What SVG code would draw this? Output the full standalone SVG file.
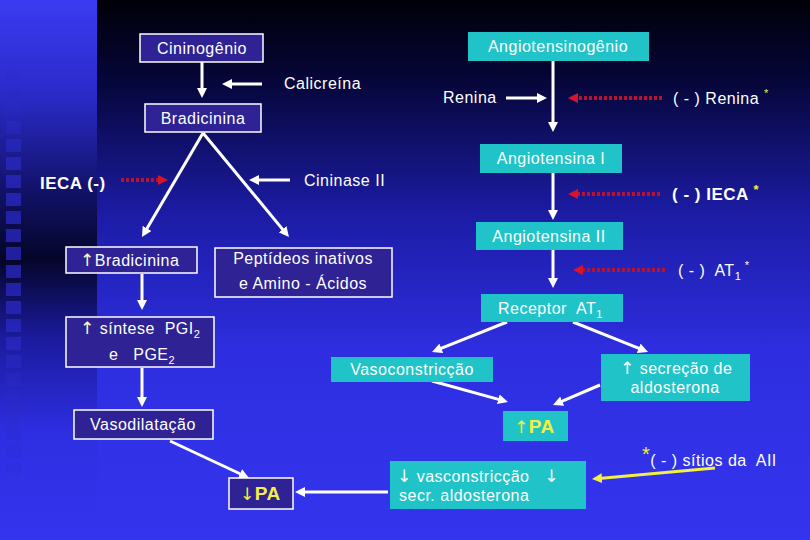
<svg xmlns="http://www.w3.org/2000/svg" width="810" height="540" viewBox="0 0 810 540">
<defs>
<linearGradient id="bgMain" x1="0" y1="0" x2="0" y2="1">
<stop offset="0" stop-color="#000008"/>
<stop offset="0.15" stop-color="#06063a"/>
<stop offset="0.4" stop-color="#1c1ca6"/>
<stop offset="0.65" stop-color="#2e2ee0"/>
<stop offset="1" stop-color="#3434ee"/>
</linearGradient>
<linearGradient id="bgStripe" x1="0" y1="0" x2="0" y2="1">
<stop offset="0" stop-color="#3b3bf2"/>
<stop offset="0.18" stop-color="#2a2ac8"/>
<stop offset="0.35" stop-color="#12126a"/>
<stop offset="0.48" stop-color="#05052a"/>
<stop offset="0.62" stop-color="#1a1a9a"/>
<stop offset="0.8" stop-color="#2e2ee2"/>
<stop offset="1" stop-color="#3434ee"/>
</linearGradient>
<marker id="aw" markerUnits="userSpaceOnUse" markerWidth="10" markerHeight="10" viewBox="0 0 10 10" refX="3" refY="5" orient="auto"><path d="M0,0 L10,5 L0,10 z" fill="#ffffff"/></marker>
<marker id="ar" markerUnits="userSpaceOnUse" markerWidth="10" markerHeight="10" viewBox="0 0 10 10" refX="3" refY="5" orient="auto"><path d="M0,0 L10,5 L0,10 z" fill="#d8142a"/></marker>
<marker id="ay" markerUnits="userSpaceOnUse" markerWidth="10" markerHeight="10" viewBox="0 0 10 10" refX="3" refY="5" orient="auto"><path d="M0,0 L10,5 L0,10 z" fill="#f2f040"/></marker>
</defs>
<style>
.t{font-family:"Liberation Sans",Arial,sans-serif;font-size:16px;fill:#ffffff;letter-spacing:0.5px}
.b{font-weight:bold;font-size:17px}
.y{fill:#f4f040;font-weight:bold;font-size:19px}
.ly{fill:#ffffc8}
.arr{font-family:"DejaVu Sans",sans-serif;font-size:17px;font-weight:normal}
.sub{font-size:11px}
.kb{fill:#2e2294;stroke:#ffffff;stroke-width:1.5}
.ab{fill:#20c4c8}
.w{stroke:#ffffff;stroke-width:3;fill:none;marker-end:url(#aw)}
.r{stroke:#b8122c;stroke-width:4;stroke-dasharray:3 2;fill:none;marker-end:url(#ar)}
.yl{stroke:#f2f040;stroke-width:3;fill:none;marker-end:url(#ay)}
.sq{fill:#2a2ac4}
</style>
<rect x="0" y="0" width="810" height="540" fill="url(#bgMain)"/>
<rect x="0" y="0" width="97" height="540" fill="url(#bgStripe)"/>
<g id="squares">
<rect class="sq" x="6" y="67" width="15" height="13" opacity="0.1"/>
<rect class="sq" x="6" y="85" width="15" height="13" opacity="0.2"/>
<rect class="sq" x="6" y="103" width="15" height="13" opacity="0.35"/>
<rect class="sq" x="6" y="121" width="15" height="13" opacity="0.5"/>
<rect class="sq" x="6" y="139" width="15" height="13" opacity="0.65"/>
<rect class="sq" x="6" y="157" width="15" height="13" opacity="0.75"/>
<rect class="sq" x="6" y="175" width="15" height="13" opacity="0.75"/>
<rect class="sq" x="6" y="193" width="15" height="13" opacity="0.75"/>
<rect class="sq" x="6" y="211" width="15" height="13" opacity="0.75"/>
<rect class="sq" x="6" y="229" width="15" height="13" opacity="0.75"/>
<rect class="sq" x="6" y="247" width="15" height="13" opacity="0.75"/>
<rect class="sq" x="6" y="265" width="15" height="13" opacity="0.75"/>
<rect class="sq" x="6" y="283" width="15" height="13" opacity="0.75"/>
<rect class="sq" x="6" y="301" width="15" height="13" opacity="0.75"/>
<rect class="sq" x="6" y="319" width="15" height="13" opacity="0.75"/>
<rect class="sq" x="6" y="337" width="15" height="13" opacity="0.75"/>
<rect class="sq" x="6" y="355" width="15" height="13" opacity="0.6"/>
<rect class="sq" x="6" y="373" width="15" height="13" opacity="0.5"/>
<rect class="sq" x="6" y="391" width="15" height="13" opacity="0.4"/>
<rect class="sq" x="6" y="409" width="15" height="13" opacity="0.3"/>
<rect class="sq" x="6" y="427" width="15" height="13" opacity="0.22"/>
<rect class="sq" x="6" y="445" width="15" height="13" opacity="0.15"/>
<rect class="sq" x="6" y="463" width="15" height="13" opacity="0.1"/>
</g>
<g id="connectors">
<line class="w" x1="202" y1="62" x2="202" y2="91"/>
<line class="w" x1="262" y1="84" x2="229" y2="84"/>
<line class="w" x1="203" y1="133" x2="145.5" y2="231"/>
<line class="w" x1="203" y1="133" x2="284.5" y2="231.6"/>
<line class="r" x1="121" y1="180" x2="161" y2="180"/>
<line class="w" x1="290" y1="180" x2="256" y2="180"/>
<line class="w" x1="142" y1="274" x2="142" y2="303"/>
<line class="w" x1="142" y1="368" x2="142" y2="400"/>
<line class="w" x1="170" y1="441" x2="242.7" y2="475"/>
<line class="w" x1="388" y1="492" x2="302" y2="492"/>
<line class="w" x1="553" y1="61" x2="553" y2="125"/>
<line class="w" x1="506" y1="98" x2="540" y2="98"/>
<line class="r" x1="662" y1="98" x2="575" y2="98"/>
<line class="w" x1="553" y1="173" x2="553" y2="213"/>
<line class="r" x1="660" y1="194" x2="575" y2="194"/>
<line class="w" x1="553" y1="250" x2="553" y2="281"/>
<line class="r" x1="665" y1="270" x2="580" y2="270"/>
<line class="w" x1="507" y1="322" x2="438.5" y2="349.4"/>
<line class="w" x1="573" y1="322" x2="641.5" y2="349.4"/>
<line class="w" x1="432" y1="381" x2="501.2" y2="400.1"/>
<line class="w" x1="600" y1="385" x2="559.4" y2="402.3"/>
<line class="yl" x1="715" y1="468" x2="599" y2="478.4"/>
</g>
<g id="cininogenio"><rect class="kb" x="140" y="34" width="123" height="28"/><text class="t" x="202" y="54" text-anchor="middle">Cininogênio</text></g>
<g id="calicreina"><text class="t" x="284" y="89">Calicreína</text></g>
<g id="bradicinina"><rect class="kb" x="145" y="104" width="116" height="28"/><text class="t" x="203" y="124" text-anchor="middle">Bradicinina</text></g>
<g id="ieca-left"><text class="t b" x="40" y="189">IECA (-)</text></g>
<g id="cininase"><text class="t" x="304" y="186">Cininase II</text></g>
<g id="bradicinina-up"><rect class="kb" x="66" y="247" width="131" height="26"/><text class="t" x="80" y="266"><tspan class="ly arr">↑</tspan>Bradicinina</text></g>
<g id="peptideos"><rect class="kb" x="215" y="248" width="177" height="49"/><text class="t" x="303" y="264" text-anchor="middle">Peptídeos inativos</text><text class="t" x="303" y="289" text-anchor="middle">e  Amino - Ácidos</text></g>
<g id="sintese"><rect class="kb" x="66" y="317" width="148" height="50"/><text class="t" x="80" y="334"><tspan class="ly arr">↑</tspan> síntese&#160; PGI<tspan class="sub" dy="4">2</tspan></text><text class="t" x="109" y="360">e&#160;&#160; PGE<tspan class="sub" dy="4">2</tspan></text></g>
<g id="vasodilatacao"><rect class="kb" x="74" y="410" width="139" height="29"/><text class="t" x="143" y="430" text-anchor="middle">Vasodilatação</text></g>
<g id="pa-down"><rect class="kb" x="229" y="478" width="64" height="31"/><text class="t y" x="240" y="500"><tspan class="arr">↓</tspan>PA</text></g>
<g id="angiotensinogenio"><rect class="ab" x="468" y="32" width="181" height="29"/><text class="t" x="558" y="52" text-anchor="middle">Angiotensinogênio</text></g>
<g id="renina"><text class="t" x="443" y="103">Renina</text></g>
<g id="renina-inhib"><text class="t" x="673" y="104">( - ) Renina <tspan fill="#f4f040" font-size="11" dy="-7">*</tspan></text></g>
<g id="angiotensina1"><rect class="ab" x="480" y="144" width="142" height="29"/><text class="t" x="551" y="164" text-anchor="middle">Angiotensina I</text></g>
<g id="ieca-right"><text class="t b" x="672" y="200">( - ) IECA <tspan fill="#f4f040" font-size="13" dy="-6">*</tspan></text></g>
<g id="angiotensina2"><rect class="ab" x="476" y="222" width="147" height="28"/><text class="t" x="549" y="242" text-anchor="middle">Angiotensina II</text></g>
<g id="at1-inhib"><text class="t" x="678" y="276">( - )&#160; AT<tspan class="sub" dy="4">1</tspan><tspan font-size="11" dy="-11"> *</tspan></text></g>
<g id="receptor"><rect class="ab" x="481" y="294" width="142" height="28"/><text class="t" x="498" y="314">Receptor&#160; AT<tspan class="sub" dy="4">1</tspan></text></g>
<g id="vasoconstriccao"><rect class="ab" x="331" y="357" width="162" height="25"/><text class="t" x="412" y="375" text-anchor="middle">Vasoconstricção</text></g>
<g id="secrecao"><rect class="ab" x="601" y="354" width="149" height="47"/><text class="t" x="620" y="374"><tspan class="arr">↑</tspan> secreção de</text><text class="t" x="675" y="393" text-anchor="middle">aldosterona</text></g>
<g id="pa-up"><rect class="ab" x="503" y="411" width="65" height="30"/><text class="t y" x="514" y="433"><tspan class="arr">↑</tspan>PA</text></g>
<g id="sitios"><text class="t" x="642" y="466"><tspan fill="#f4f040" font-size="20" dy="-5">*</tspan><tspan dy="5">( - ) sítios da&#160; AII</tspan></text></g>
<g id="vasconstriccao-down"><rect class="ab" x="390" y="461" width="196" height="48"/><text class="t" x="397" y="482"><tspan class="arr">↓</tspan> vasconstricção&#160;&#160; <tspan class="arr">↓</tspan></text><text class="t" x="399" y="501">secr. aldosterona</text></g>
</svg>
